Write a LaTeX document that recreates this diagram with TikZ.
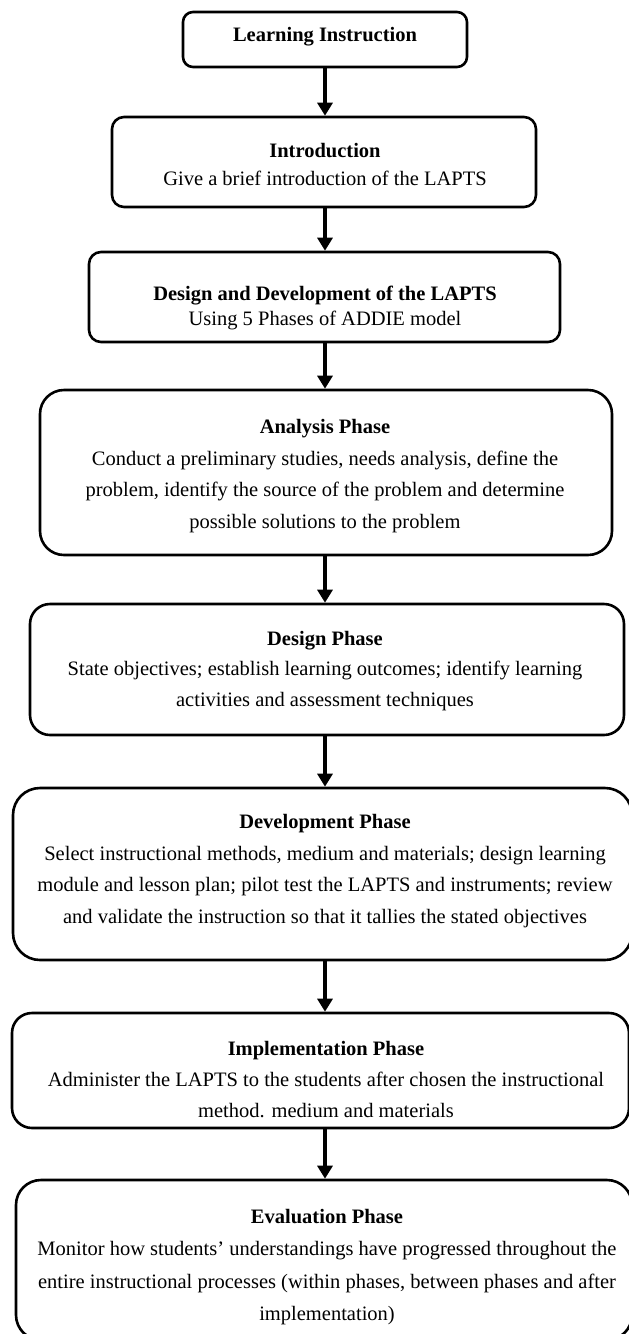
\documentclass[tikz,border=0pt]{standalone}
\usepackage{fontspec}
\setmainfont{Liberation Serif}
\usetikzlibrary{arrows.meta}
\begin{document}
\begin{tikzpicture}[x=1pt,y=-1pt,
  box/.style={draw=black, line width=2.6pt, rounded corners=#1, inner sep=0pt},
  txt/.style={align=center, inner sep=0pt, text=black},
  arr/.style={line width=3.2pt, -{Triangle[width=15pt,length=13pt]}}
]
\useasboundingbox (0,0) rectangle (629,1334);
\clip (0,0) rectangle (629,1334);

% boxes
\node[box=10pt, minimum width=284pt, minimum height=55pt]  (b1) at (325,39.5) {};
\node[box=12pt, minimum width=424pt, minimum height=90pt]  (b2) at (324,162) {};
\node[box=12pt, minimum width=471pt, minimum height=90pt]  (b3) at (324.5,297) {};
\node[box=24pt, minimum width=572pt, minimum height=165pt] (b4) at (326,472.5) {};
\node[box=20pt, minimum width=594pt, minimum height=131pt] (b5) at (327,669.5) {};
\node[box=27pt, minimum width=619pt, minimum height=172pt] (b6) at (322.5,874) {};
\node[box=20pt, minimum width=617pt, minimum height=115pt] (b7) at (320.5,1070.5) {};
\node[box=25pt, minimum width=616pt, minimum height=160pt] (b8) at (324,1260) {};

% texts
\node[txt, font=\fontsize{20.5pt}{28pt}\selectfont] (t1) at (325,37)
  {\textbf{Learning Instruction}};
\node[txt, font=\fontsize{20.5pt}{28pt}\selectfont] (t2) at (325,164)
  {\textbf{Introduction}\\Give a brief introduction of the LAPTS};
\node[txt, font=\fontsize{20.5pt}{25pt}\selectfont] (t3) at (325,308)
  {\textbf{Design and Development of the LAPTS}\\Using 5 Phases of ADDIE model};
\node[txt, font=\fontsize{20.5pt}{31.7pt}\selectfont] (t4) at (325,476)
  {\textbf{Analysis Phase}\\Conduct a preliminary studies, needs analysis, define the\\problem, identify the source of the problem and determine\\possible solutions to the problem};
\node[txt, font=\fontsize{20.5pt}{30.5pt}\selectfont] (t5) at (325,671)
  {\textbf{Design Phase}\\State objectives; establish learning outcomes; identify learning\\activities and assessment techniques};
\node[txt, font=\fontsize{20.5pt}{31.7pt}\selectfont] (t6) at (325,871)
  {\textbf{Development Phase}\\Select instructional methods, medium and materials; design learning\\module and lesson plan; pilot test the LAPTS and instruments; review\\and validate the instruction so that it tallies the stated objectives};
\node[txt, font=\fontsize{20.5pt}{31pt}\selectfont] (t7) at (326,1080)
  {\textbf{Implementation Phase}\\Administer the LAPTS to the students after chosen the instructional\\method. medium and materials};
\node[txt, font=\fontsize{20.5pt}{32.3pt}\selectfont] (t8) at (327,1267)
  {\textbf{Evaluation Phase}\\Monitor how students’ understandings have progressed throughout the\\entire instructional processes (within phases, between phases and after\\implementation)};

% connectors
\draw[arr] (b1.south -| 325,0) -- (b2.north -| 325,0);
\draw[arr] (b2.south -| 325,0) -- (b3.north -| 325,0);
\draw[arr] (b3.south -| 325,0) -- (b4.north -| 325,0);
\draw[arr] (b4.south -| 325,0) -- (b5.north -| 325,0);
\draw[arr] (b5.south -| 325,0) -- (b6.north -| 325,0);
\draw[arr] (b6.south -| 325,0) -- (b7.north -| 325,0);
\draw[arr] (b7.south -| 325,0) -- (b8.north -| 325,0);
\end{tikzpicture}
\end{document}
